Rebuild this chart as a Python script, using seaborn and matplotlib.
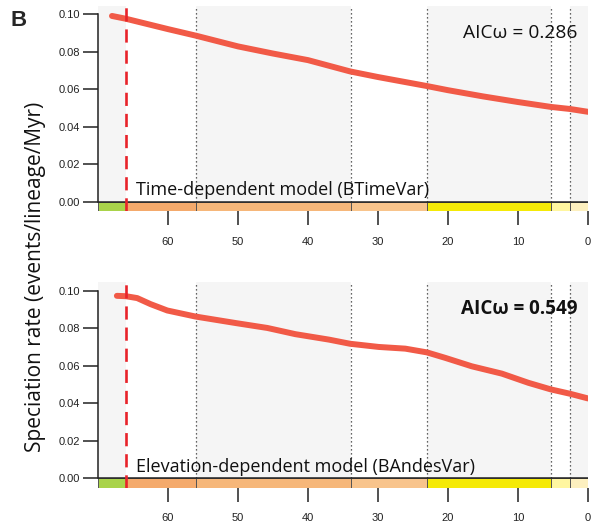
import numpy as np
import pandas as pd
import matplotlib.pyplot as plt
import seaborn as sns

sns.set_theme(style="white")
plt.rcParams['font.family'] = ['Liberation Sans', 'DejaVu Sans']

# speciation-rate curves (time in Ma, rate in events/lineage/Myr)
time_top = [68, 66, 60, 56, 50, 45, 40, 34, 30, 23, 20, 15, 10, 5.3, 2.58, 0]
rate_top = [0.0990, 0.0975, 0.0920, 0.0885, 0.0828, 0.0790, 0.0755, 0.0695, 0.0665,
            0.0617, 0.0595, 0.0562, 0.0532, 0.0506, 0.0495, 0.0480]

time_bot = [67.3, 66.0, 64.4, 62.5, 60.1, 56.1, 50.3, 45.8, 41.8, 37.0, 34.0, 29.9, 26.1,
            23.0, 20.4, 16.6, 12.3, 8.5, 5.3, 2.57, 0]
rate_bot = [0.0972, 0.0970, 0.0960, 0.0928, 0.0894, 0.0862, 0.0827, 0.0801, 0.0768, 0.0739,
            0.0717, 0.0700, 0.0691, 0.0671, 0.0642, 0.0597, 0.0558, 0.0509, 0.0474, 0.0451,
            0.0426]

# geological time scale strip
period_start = [70, 66, 56, 33.9, 23.03, 5.33, 2.58]
period_end = [66, 56, 33.9, 23.03, 5.33, 2.58, 0]
period_color = ['#a9d34a', '#f4aa6c', '#f6b77a', '#f8c48c', '#f5ea07', '#fff6a0', '#fdf0bf']
shaded = [True, False, True, False, True, False, True]
boundaries = [56, 33.9, 23.03, 5.33, 2.58]
kpg = 66

model_names = ['Time-dependent model (BTimeVar)', 'Elevation-dependent model (BAndesVar)']
aic = ['AICω = 0.286', 'AICω = 0.549']
aic_bold = [False, True]

ylo, yhi = -0.0048, 0.1043

fig = plt.figure(figsize=(5.95, 5.31), dpi=100)
ax_top = fig.add_axes([0.1647, 0.6026, 0.8235, 0.3861])
ax_bot = fig.add_axes([0.1647, 0.0819, 0.8235, 0.3861])

panels = [(ax_top, time_top, rate_top), (ax_bot, time_bot, rate_bot)]
for i, (ax, t, r) in enumerate(panels):
    ax.set_xlim(70, 0)
    ax.set_ylim(ylo, yhi)
    frac0 = -ylo / (yhi - ylo)

    # alternating background
    for a, b, s in zip(period_start, period_end, shaded):
        if s:
            ax.axvspan(a, b, ymin=frac0, ymax=1, color='#f5f5f5', lw=0, zorder=0)

    # epoch boundaries
    for bd in boundaries:
        ax.plot([bd, bd], [0, yhi], ls=(0, (1, 2.2)), color='#333333', lw=0.9, zorder=1)

    # time scale strip below zero
    for a, b, c in zip(period_start, period_end, period_color):
        ax.bar(a, ylo, width=b - a, bottom=0, align='edge', color=c,
               edgecolor='#555555', linewidth=0.7, zorder=2)
    ax.axhline(0, color='#222222', lw=1.1, zorder=3)

    df = pd.DataFrame({'time': t, 'rate': r})
    sns.lineplot(data=df, x='time', y='rate', ax=ax, color='#f15a47', lw=4.3,
                 solid_capstyle='round', solid_joinstyle='round', zorder=4)

    ax.plot([kpg, kpg], [ylo, yhi], color='#e8232a', lw=1.9, ls=(0, (5, 3)), zorder=5)

    ax.text(64.5, 0.0037, model_names[i], fontsize=13, family=['Open Sans', 'DejaVu Sans'],
            va='baseline', ha='left', color='#111111', zorder=6)
    ax.text(1.55, 0.0900, aic[i], fontsize=13.8 if not aic_bold[i] else 13.6,
            family=['Open Sans', 'DejaVu Sans'],
            fontweight='bold' if aic_bold[i] else 'normal',
            va='center', ha='right', color='#111111', zorder=6)

    ax.set_xlabel('')
    ax.set_ylabel('')
    ax.set_yticks([0, 0.02, 0.04, 0.06, 0.08, 0.10])
    ax.set_yticklabels(['0.00', '0.02', '0.04', '0.06', '0.08', '0.10'])
    ax.set_xticks([60, 50, 40, 30, 20, 10, 0])
    ax.tick_params(axis='y', left=True, length=11, width=1.1, pad=2, labelsize=8,
                   color='#222222', labelcolor='#222222')
    ax.tick_params(axis='x', bottom=True, length=10, width=1.1, pad=8.5, labelsize=8,
                   color='#222222', labelcolor='#222222')
    for s in ['top', 'right', 'bottom']:
        ax.spines[s].set_visible(False)
    ax.spines['left'].set_bounds(0, 0.1)
    ax.spines['left'].set_color('#222222')
    ax.spines['left'].set_linewidth(1.1)

fig.text(0.059, 0.478, 'Speciation rate (events/lineage/Myr)', rotation=90, fontsize=15,
         family=['Open Sans', 'DejaVu Sans'], ha='center', va='center', color='#111111')
fig.text(0.017, 0.962, 'B', fontsize=16, fontweight='bold', ha='left', va='center')

fig.savefig('out.png', dpi=100)
